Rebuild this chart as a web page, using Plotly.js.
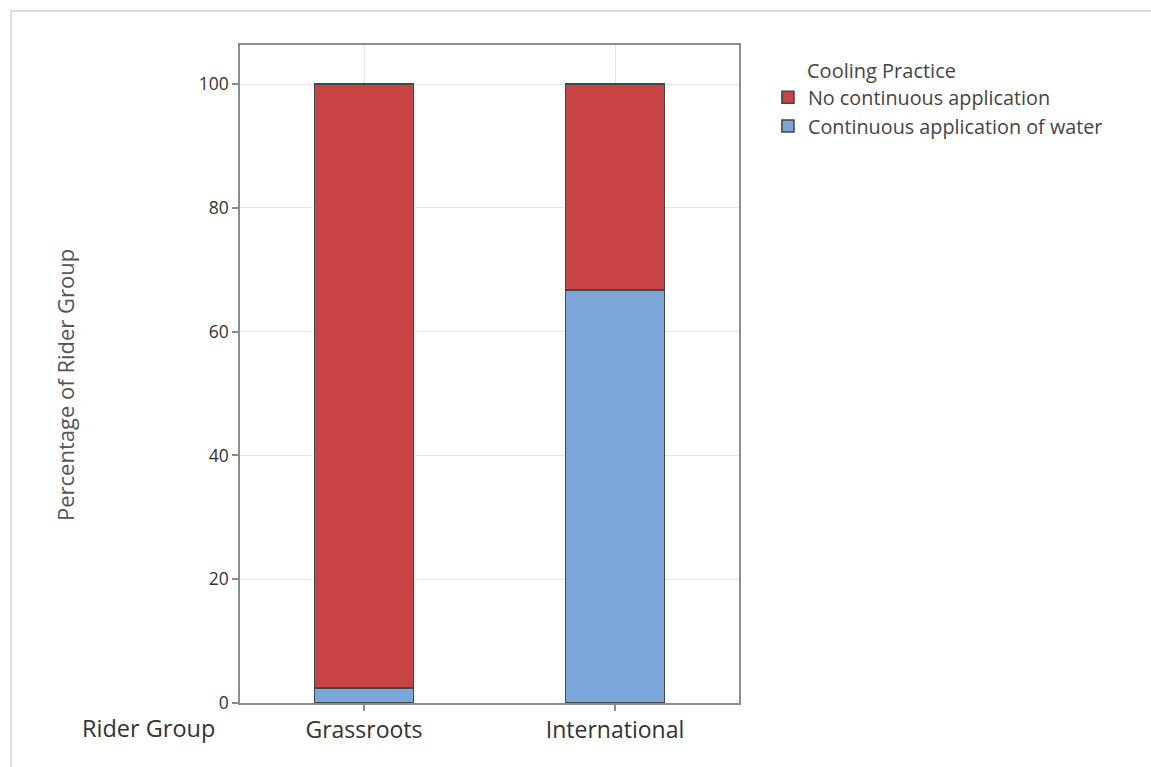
<!DOCTYPE html>
<html>
<head>
<meta charset="utf-8">
<script src="https://cdn.plot.ly/plotly-3.0.1.min.js"></script>
<style>
  html, body { margin: 0; padding: 0; background: #fff; }
  #frame { position: absolute; left: 10px; top: 10px; width: 1200px; height: 800px; border-left: 2px solid #dcdcdc; border-top: 2px solid #dcdcdc; pointer-events: none; }
  #chart { position: absolute; left: 0; top: 0; width: 1151px; height: 767px; }
</style>
</head>
<body>
<div id="chart"></div>
<div id="frame"></div>
<script>
const categories = ["Grassroots", "International"];
const waterPct = [2.4, 66.7];
const noContPct = [97.6, 33.3];
const seriesNames = ["Continuous application of water", "No continuous application"];
const yTicks = [0, 20, 40, 60, 80, 100];

const FONT = '"Open Sans", "Noto Sans", sans-serif';
const outline = { color: '#464646', width: 1.6 };

const traces = [
  { type: 'bar', x: categories, y: waterPct, name: seriesNames[0], width: 0.395,
    marker: { color: '#7BA6D9', line: outline }, hoverinfo: 'y+name' },
  { type: 'bar', x: categories, y: noContPct, name: seriesNames[1], width: 0.395,
    marker: { color: '#C84444', line: outline }, hoverinfo: 'y+name' }
];

const layout = {
  width: 1151, height: 767,
  margin: { l: 240, r: 412, t: 45, b: 64, pad: 0 },
  paper_bgcolor: '#ffffff', plot_bgcolor: '#ffffff',
  barmode: 'stack',
  font: { family: FONT, color: '#333', size: 16 },
  showlegend: true,
  legend: {
    x: 1.058, y: 0.95, xanchor: 'left', yanchor: 'top',
    traceorder: 'reversed',
    font: { family: FONT, size: 19.8, color: '#444' },
    bgcolor: 'rgba(0,0,0,0)', itemwidth: 30, tracegroupgap: 0
  },
  xaxis: {
    type: 'category', range: [-0.494, 1.494],
    showline: true, linecolor: '#8c8c8c', linewidth: 1.5, mirror: true,
    showgrid: true, gridcolor: '#e6e6e6', gridwidth: 1,
    ticks: 'outside', ticklen: 6, tickcolor: '#8c8c8c', tickwidth: 1.5,
    tickfont: { family: FONT, size: 23, color: '#333' },
    zeroline: false, fixedrange: true
  },
  yaxis: {
    range: [0, 106.3], tickvals: yTicks, ticktext: yTicks.map(String),
    showline: true, linecolor: '#8c8c8c', linewidth: 1.5, mirror: true,
    showgrid: true, gridcolor: '#e6e6e6', gridwidth: 1,
    ticks: 'outside', ticklen: 6, tickcolor: '#8c8c8c', tickwidth: 1.5,
    tickfont: { family: FONT, size: 17.5, color: '#333' },
    zeroline: false, fixedrange: true
  },
  annotations: [
    { text: 'Percentage of Rider Group', xref: 'paper', yref: 'paper',
      x: (65 - 240) / 499, y: (703 - 385) / 658, xanchor: 'center', yanchor: 'middle',
      textangle: -90, showarrow: false, font: { family: FONT, size: 22, color: '#555' } },
    { text: 'Rider Group', xref: 'paper', yref: 'paper',
      x: (217 - 240) / 499, y: (703 - 728) / 658, xanchor: 'right', yanchor: 'middle',
      showarrow: false, font: { family: FONT, size: 23.5, color: '#333' } },
    { text: 'Cooling Practice', xref: 'paper', yref: 'paper',
      x: (805 - 240) / 499, y: (703 - 70) / 658, xanchor: 'left', yanchor: 'middle',
      showarrow: false, font: { family: FONT, size: 20, color: '#444' } }
  ]
};

Plotly.newPlot('chart', traces, layout, { displayModeBar: false, staticPlot: false });
</script>
</body>
</html>
